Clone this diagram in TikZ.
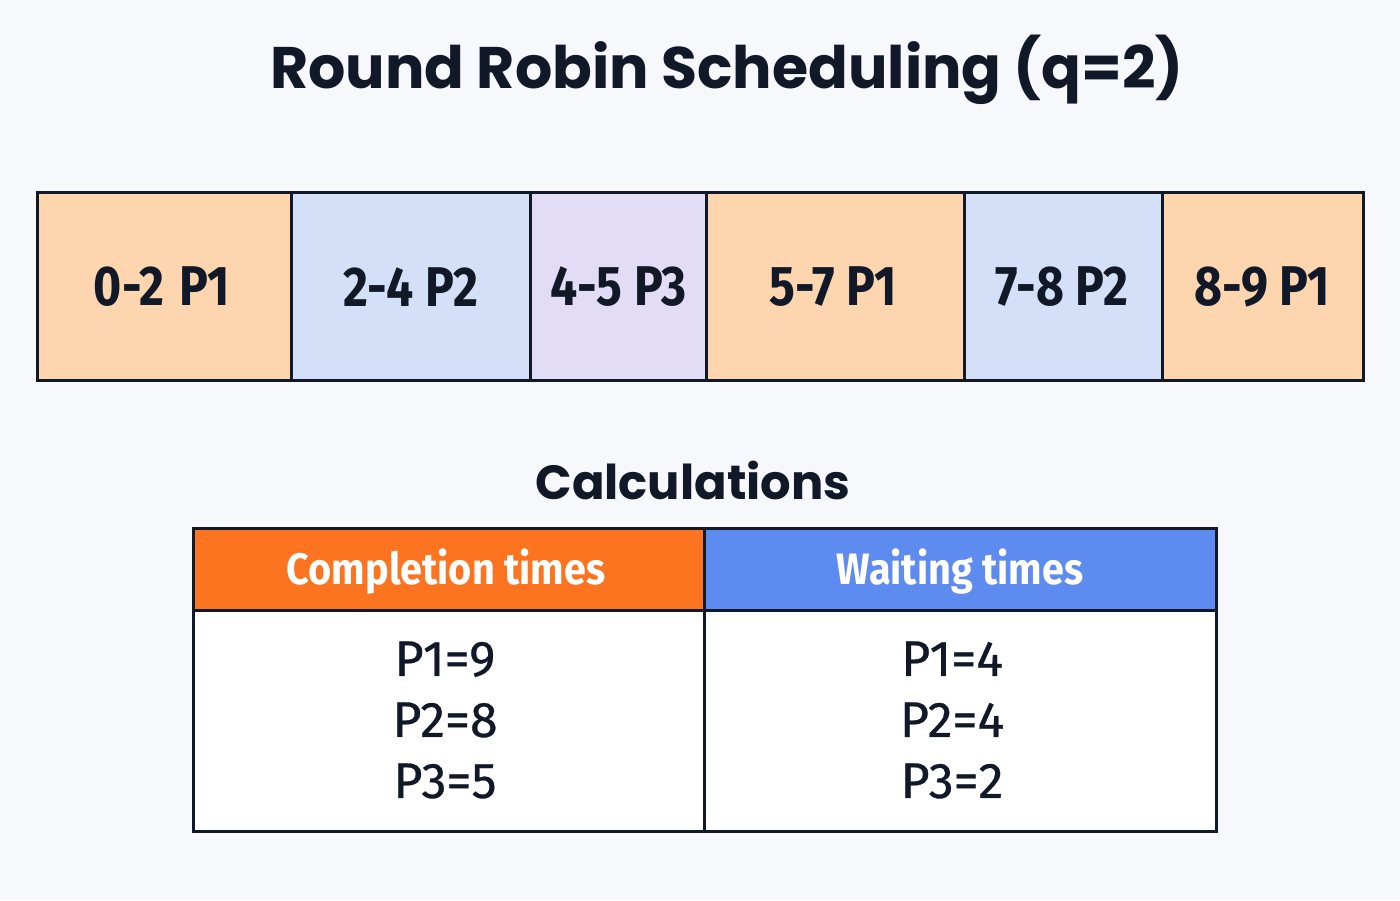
\documentclass[tikz,border=0pt]{standalone}
\usepackage{fontspec}
\setmainfont{Poppins}
\newfontfamily\cond[FakeStretch=0.86]{Fira Sans}
\newfontfamily\condh[FakeStretch=0.9]{Fira Sans}
\newfontfamily\medf[FakeBold=0.6]{Fira Sans}
\usetikzlibrary{positioning}
\definecolor{bg}{HTML}{F7F8FC}
\definecolor{ink}{HTML}{111827}
\definecolor{pone}{HTML}{FDD5AE}
\definecolor{ptwo}{HTML}{D3E0F8}
\definecolor{pthree}{HTML}{E3DCF7}
\definecolor{horange}{HTML}{FC7420}
\definecolor{hblue}{HTML}{5E8BF0}
\tikzset{
  slot/.style={draw=ink, line width=3pt},
  slottext/.style={text=ink, font=\cond\bfseries\fontsize{56}{60}\selectfont},
  headtext/.style={text=white, font=\condh\fontsize{44}{50}\selectfont\bfseries},
  bodytext/.style={text=ink, font=\medf\fontsize{50}{61}\selectfont, align=center},
}
\begin{document}
\begin{tikzpicture}[x=1pt,y=-1pt]
\useasboundingbox[fill=bg] (0,0) rectangle (1400,900);
\node[text=ink, font=\bfseries\fontsize{58.6}{66}\selectfont] (title) at (727,70) {Round Robin Scheduling (q=2)};
% Gantt chart
\filldraw[slot, fill=pone] (37,192) rectangle (291,380);
\filldraw[slot, fill=ptwo] (291,192) rectangle (530,380);
\filldraw[slot, fill=pthree] (530,192) rectangle (706,380);
\filldraw[slot, fill=pone] (706,192) rectangle (964,380);
\filldraw[slot, fill=ptwo] (964,192) rectangle (1162,380);
\filldraw[slot, fill=pone] (1162,192) rectangle (1363,380);
\node[slottext] (s1) at (162,287) {0-2\kern4pt\ P1};
\node[slottext] (s2) at (411,287) {2-4 P2};
\node[slottext] (s3) at (619,287) {4-5 P3};
\node[slottext] (s4) at (833,287) {5-7 P1};
\node[slottext] (s5) at (1062,287) {7-8 P2};
\node[slottext] (s6) at (1262,287) {8-9 P1};
% Calculations
\node[text=ink, font=\bfseries\fontsize{48}{56}\selectfont] (calc) at (693,480) {Calculations};
\fill[horange] (193,528) rectangle (704,610);
\fill[hblue] (704,528) rectangle (1216,610);
\fill[white] (193,610) rectangle (1216,831);
\draw[slot] (193,528) rectangle (1216,831);
\draw[slot] (193,610) -- (1216,610);
\draw[slot] (704,528) -- (704,831);
\node[headtext] (h1) at (446,572) {Completion times};
\node[headtext] (h2) at (960,572) {Waiting times};
\node[bodytext] (b1) at (445,720) {P1=9\\P2=8\\P3=5};
\node[bodytext] (b2) at (952,720) {P1=4\\P2=4\\P3=2};
\end{tikzpicture}
\end{document}
